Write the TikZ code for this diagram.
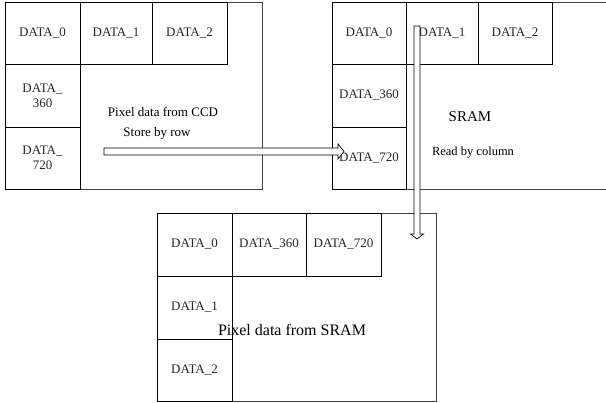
\documentclass[tikz,border=0pt]{standalone}
\usepackage{fontspec}
\setmainfont{Liberation Serif}
\begin{document}
\begin{tikzpicture}[x=1pt,y=-1pt,
  cell/.style={draw=black,line width=0.8pt,inner sep=0pt,align=center,font=\fontsize{13}{15}\selectfont,text=black!85},
  outerbox/.style={draw=black!75,line width=0.8pt},
  hollow/.style={draw=black,line width=0.7pt,fill=white},
  lbl/.style={inner sep=0pt,font=\fontsize{13}{15}\selectfont}]
\useasboundingbox (0,0) rectangle (606,403);
% ---------- left box ----------
\draw[outerbox] (5,2) rectangle (262,189);
\node[cell,minimum width=75pt,minimum height=62pt] (L0) at (42.5,33) {DATA\_0};
\node[cell,minimum width=72pt,minimum height=62pt] (L1) at (116,33) {DATA\_1};
\node[cell,minimum width=75pt,minimum height=62pt] (L2) at (189.5,33) {DATA\_2};
\node[cell,minimum width=75pt,minimum height=63pt] (L360) at (42.5,95.5) {DATA\_\\360};
\node[cell,minimum width=75pt,minimum height=62pt] (L720) at (42.5,158) {DATA\_\\720};
\node[lbl] (ccd) at (163,112) {Pixel data from CCD};
\node[lbl] (row) at (157,133) {Store by row};
% ---------- right box ----------
\draw[outerbox] (606,2) -- (332,2) -- (332,189) -- (606,189);
\node[cell,minimum width=74pt,minimum height=62pt] (R0) at (369,33) {DATA\_0};
\node[cell,minimum width=72pt,minimum height=62pt] (R1) at (442,33) {DATA\_1};
\node[cell,minimum width=74pt,minimum height=62pt] (R2) at (515,33) {DATA\_2};
\node[cell,minimum width=74pt,minimum height=63pt] (R360) at (369,95.5) {DATA\_360};
\node[cell,minimum width=74pt,minimum height=62pt] (R720) at (369,158) {DATA\_720};
\node[lbl,font=\fontsize{15}{17}\selectfont] (sram) at (470,117) {SRAM};
\node[lbl,font=\fontsize{12.5}{14}\selectfont] (col) at (473,153) {Read by column};
% ---------- bottom box ----------
\draw[outerbox] (157,213) rectangle (436,401);
\node[cell,minimum width=75pt,minimum height=63pt] (B0) at (194.5,244.5) {DATA\_0};
\node[cell,minimum width=74pt,minimum height=63pt] (B360) at (269,244.5) {DATA\_360};
\node[cell,minimum width=75pt,minimum height=63pt] (B720) at (343.5,244.5) {DATA\_720};
\node[cell,minimum width=75pt,minimum height=63pt] (B1) at (194.5,307.5) {DATA\_1};
\node[cell,minimum width=75pt,minimum height=62pt] (B2) at (194.5,370) {DATA\_2};
\node[lbl,font=\fontsize{16}{18}\selectfont] (bsram) at (292,330) {Pixel data from SRAM};
% ---------- hollow arrows ----------
\coordinate (hs) at (104,151.5);
\coordinate (he) at (344,151.5);
\draw[hollow] ([yshift=-3.5pt]hs) -- ([xshift=-6pt,yshift=-3.5pt]he) -- ([xshift=-6pt,yshift=-7.5pt]he) -- (he)
  -- ([xshift=-6pt,yshift=7.5pt]he) -- ([xshift=-6pt,yshift=3.5pt]he) -- ([yshift=3.5pt]hs) -- cycle;
\coordinate (vs) at (417,26);
\coordinate (ve) at (417,239);
\draw[hollow] ([xshift=-3pt]vs) -- ([xshift=-3pt,yshift=5pt]ve) -- ([xshift=-6.5pt,yshift=5pt]ve) -- (ve)
  -- ([xshift=6.5pt,yshift=5pt]ve) -- ([xshift=3pt,yshift=5pt]ve) -- ([xshift=3pt]vs) -- cycle;
\end{tikzpicture}
\end{document}
